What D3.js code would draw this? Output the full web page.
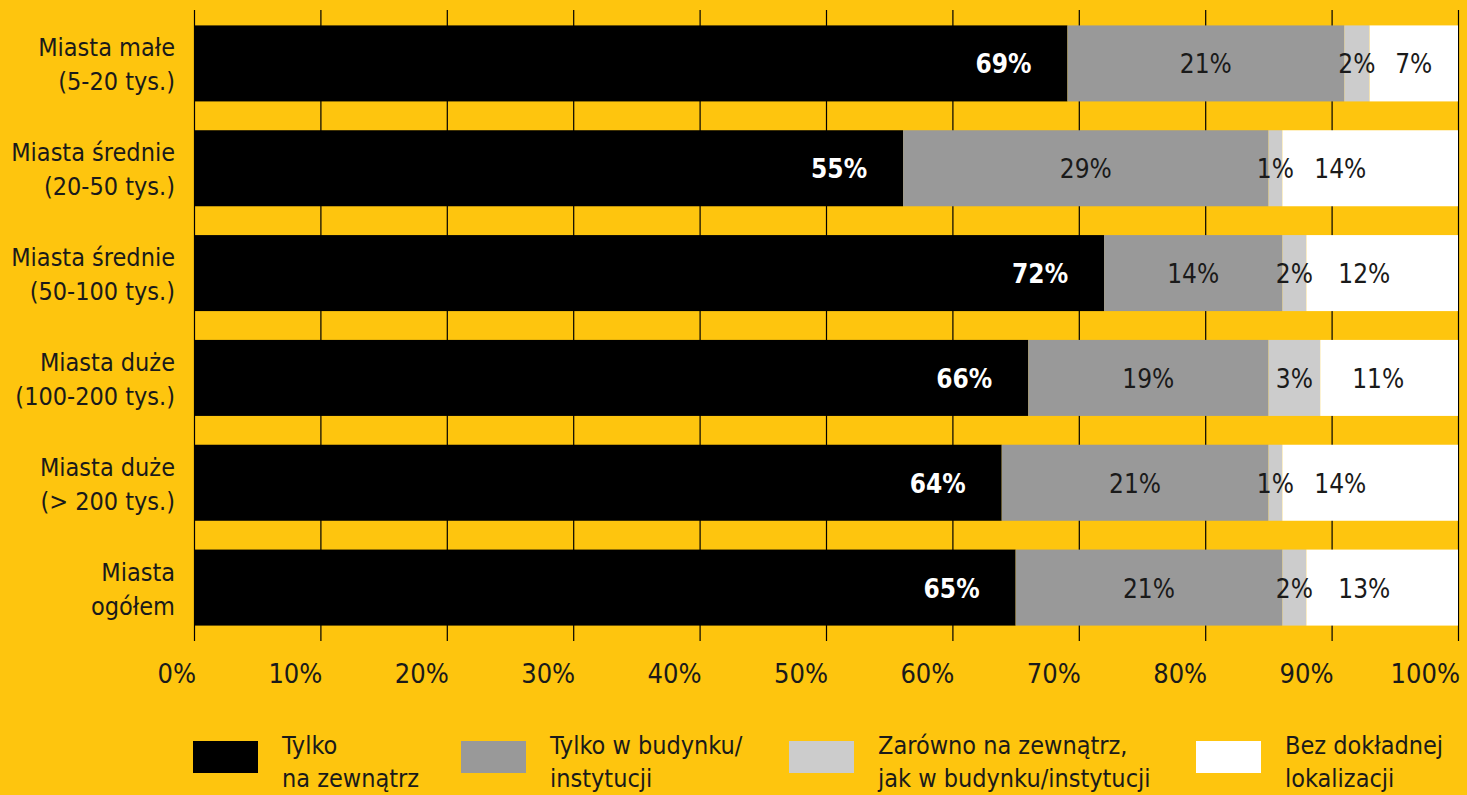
<!DOCTYPE html>
<html>
<head>
<meta charset="utf-8">
<script src="https://cdn.jsdelivr.net/npm/d3@7"></script>
<style>
  html, body { margin: 0; padding: 0; background: #FEC50E; }
  svg { display: block; }
  text { font-family: 'DejaVu Sans Condensed', 'DejaVu Sans', sans-serif; font-stretch: condensed; fill: #1a1a1a; }
</style>
</head>
<body>
<svg width="1467" height="795"></svg>
<script>
// categories, two lines each
var cities = [
    ['Miasta małe', '(5-20 tys.)'],
    ['Miasta średnie', '(20-50 tys.)'],
    ['Miasta średnie', '(50-100 tys.)'],
    ['Miasta duże', '(100-200 tys.)'],
    ['Miasta duże', '(> 200 tys.)'],
    ['Miasta', 'ogółem']
];
var seriesNames = [
    ['Tylko', 'na zewnątrz'],
    ['Tylko w budynku/', 'instytucji'],
    ['Zarówno na zewnątrz,', 'jak w budynku/instytucji'],
    ['Bez dokładnej', 'lokalizacji']
];
var seriesColors = ['#000000', '#999999', '#cccccc', '#ffffff'];

// bar lengths (share, %) as drawn
var outside = [69.1, 56.1, 72.0, 66.0, 63.9, 65.0];
var inside = [21.9, 28.9, 14.1, 19.0, 21.1, 21.1];
var both = [2.0, 1.1, 1.9, 4.1, 1.1, 1.9];
var unknown = [7.0, 13.9, 12.0, 10.9, 13.9, 12.0];

// printed labels
var outsideLabel = [69, 55, 72, 66, 64, 65];
var insideLabel = [21, 29, 14, 19, 21, 21];
var bothLabel = [2, 1, 2, 3, 1, 2];
var unknownLabel = [7, 14, 12, 11, 14, 13];

var ticks = [0, 10, 20, 30, 40, 50, 60, 70, 80, 90, 100];

var values = [outside, inside, both, unknown];
var labels = [outsideLabel, insideLabel, bothLabel, unknownLabel];

var svg = d3.select('svg');
var x = d3.scaleLinear().domain([0, 100]).range([194, 1458]);
var y = d3.scaleBand().domain(d3.range(cities.length)).range([11, 640])
    .paddingInner(0.275).paddingOuter(0.1375);

// grid
svg.append('g').selectAll('line').data(ticks).enter().append('line')
    .attr('x1', function (d) { return x(d) + 0.5; })
    .attr('x2', function (d) { return x(d) + 0.5; })
    .attr('y1', 10).attr('y2', 641)
    .attr('stroke', '#000').attr('stroke-width', 1.2);

// tick labels (right aligned on tick)
svg.append('g').selectAll('text').data(ticks).enter().append('text')
    .attr('x', function (d) { return x(d) + 2; })
    .attr('y', 683)
    .attr('text-anchor', 'end')
    .style('font-size', '27px')
    .text(function (d) { return d + '%'; });

// stacked segments
var segs = [];
cities.forEach(function (c, i) {
    var acc = 0;
    values.forEach(function (s, k) {
        segs.push({ row: i, k: k, x0: acc, x1: acc + s[i], label: labels[k][i] });
        acc += s[i];
    });
});

var bars = svg.append('g');
bars.selectAll('rect').data(segs).enter().append('rect')
    .attr('x', function (d) { return x(d.x0); })
    .attr('width', function (d) { return x(d.x1) - x(d.x0); })
    .attr('y', function (d) { return y(d.row); })
    .attr('height', y.bandwidth())
    .attr('fill', function (d) { return seriesColors[d.k]; });

bars.selectAll('text').data(segs).enter().append('text')
    .attr('x', function (d) {
        var a = x(d.x0), b = x(d.x1);
        if (d.k === 0) return b - 64;
        if (d.k === 3) return a + Math.min((b - a) / 2, 58);
        return (a + b) / 2;
    })
    .attr('y', function (d) { return y(d.row) + y.bandwidth() / 2 + 10; })
    .attr('text-anchor', 'middle')
    .style('font-size', '26px')
    .style('font-weight', function (d) { return d.k === 0 ? 'bold' : 'normal'; })
    .style('fill', function (d) { return d.k === 0 ? '#ffffff' : '#1a1a1a'; })
    .text(function (d) { return d.label + '%'; });

// category labels
var cat = svg.append('g').selectAll('text').data(cities).enter().append('text')
    .attr('text-anchor', 'end')
    .style('font-size', '25px');
cat.append('tspan')
    .attr('x', 175)
    .attr('y', function (d, i) { return y(i) + y.bandwidth() / 2 - 7; })
    .text(function (d) { return d[0]; });
cat.append('tspan')
    .attr('x', 175)
    .attr('y', function (d, i) { return y(i) + y.bandwidth() / 2 + 27; })
    .text(function (d) { return d[1]; });

// legend
var legX = [193, 461, 789, 1196];
var leg = svg.append('g').selectAll('g').data(seriesNames).enter().append('g')
    .attr('transform', function (d, i) { return 'translate(' + legX[i] + ',0)'; });
leg.append('rect')
    .attr('x', 0).attr('y', 741).attr('width', 65).attr('height', 32)
    .attr('fill', function (d, i) { return seriesColors[i]; });
var lt = leg.append('text').style('font-size', '25px');
lt.append('tspan').attr('x', 89).attr('y', 754).text(function (d) { return d[0]; });
lt.append('tspan').attr('x', 89).attr('y', 787).text(function (d) { return d[1]; });
</script>
</body>
</html>
